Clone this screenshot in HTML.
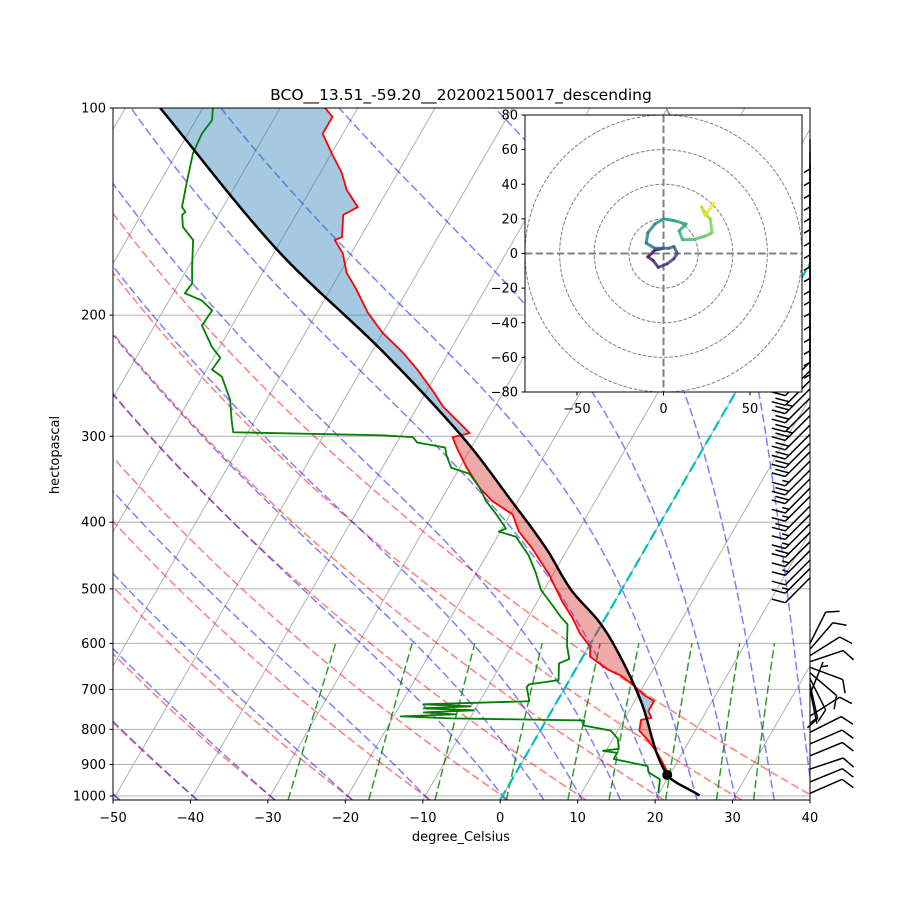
<!DOCTYPE html>
<html><head><meta charset="utf-8"><style>
html,body{margin:0;padding:0;background:#fff;}
svg{display:block;font-family:"DejaVu Sans","Liberation Sans",sans-serif;}
</style></head><body>
<svg id="chart" width="900" height="900" viewBox="0 0 900 900" xmlns="http://www.w3.org/2000/svg">
<defs>
<clipPath id="mainclip"><rect x="113" y="108" width="697" height="692"/></clipPath>
<clipPath id="hodoclip"><rect x="525" y="115" width="277" height="277"/></clipPath>
</defs>
<rect x="0" y="0" width="900" height="900" fill="#fff"/>
<g id="bg" clip-path="url(#mainclip)"></g>
<g id="fills" clip-path="url(#mainclip)"></g>
<g id="profiles" clip-path="url(#mainclip)"></g>
<rect x="113" y="108" width="697" height="692" fill="none" stroke="#000" stroke-width="1"/>
<g id="axes"></g>
<g id="barbs"></g>
<g id="hodo"></g>
<text x="461" y="100" text-anchor="middle" font-size="15.5">BCO__13.51_-59.20__202002150017_descending</text>
<text x="461" y="841" text-anchor="middle" font-size="13">degree_Celsius</text>
<text x="59" y="455" text-anchor="middle" font-size="13" transform="rotate(-90 59 455)">hectopascal</text>
</svg>
<script>
// ---------- data ----------
const pressureTicks = [100,200,300,400,500,600,700,800,900,1000];
const tempTicks = [-50,-40,-30,-20,-10,0,10,20,30,40];
const tempP = [100,103,109,116.3,124.3,131.6,139.3,143,154,155.6,162.6,173.8,182,198.5,212.3,226.8,240,258.8,271.7,296.9,300.9,311.5,333.3,356.7,372.8,389.6,412.7,436.9,476.5,521.5,551.6,580.6,607,627.1,654.5,668.3,690.8,713.7,728.2,752.2,770,775,803.7,830.9,870,917.8,933];
const tempT = [-74.2,-72.6,-72.6,-70.0,-67.2,-65.3,-62.6,-63.9,-62.4,-63.1,-61.1,-59.1,-57.0,-53.4,-50.0,-45.9,-42.8,-39.0,-36.7,-31.3,-33.2,-31.9,-29.1,-25.9,-23.3,-19.7,-17.6,-14.6,-10.5,-6.8,-4.2,-2.1,0.2,0.9,4.1,6.3,8.7,10.8,12.5,12.5,13.4,12.2,12.8,14.7,17.0,19.3,20.0];
const dewP = [100,104.1,109,116.3,128.5,139.3,141.6,143,148.9,155.6,170.5,179.8,185.9,190.4,196.9,207,222.5,230.8,240,245.8,265.7,284.3,296,299,300.9,306.3,311.5,320.1,333.3,340.1,356.7,372.8,389.6,408.5,412.7,419.9,446.6,473.1,501.7,524.8,549.4,563.1,604.2,632.4,641.4,678.6,688.2,694.4,728.2,735.7,740.7,745.7,750.7,755.8,760.9,766,771.3,776.6,789.8,803.3,825.3,853.8,859.6,865.5,883.4,904.8,923.7,946.4,990];
const dewT = [-88.7,-87.9,-88.2,-87.9,-86.5,-85.3,-84.5,-84.7,-83.7,-81.4,-79.5,-78.3,-78.5,-75.8,-73.7,-73.9,-71.0,-69.1,-69.3,-67.5,-64.7,-63.0,-61.9,-42.7,-38.3,-37.4,-33.4,-32.6,-31.1,-28.3,-25.9,-24.1,-21.8,-19.5,-20.2,-17.6,-14.6,-12.4,-10.4,-8.1,-5.8,-4.4,-2.9,-1.6,-2.6,-1.4,-4.9,-5.0,-3.6,-17.0,-10.8,-16.7,-10.1,-16.4,-12.1,-19.1,-12.4,4.9,5.2,9.1,10.6,11.5,9.6,11.6,11.6,16.5,17.1,19.1,19.9];
const parcelP = [100,160.8,226.3,300.9,375,436.9,501.7,560.5,627,728,932,998];
const parcelT = [-95.5,-69.8,-48.5,-31.9,-20.5,-12.8,-6.5,-0.3,4.8,10.8,19.7,25.4];
const lclP = [932];
const lclT = [19.7];
const dryAdiabatT0 = [-50,-40,-30,-20,-10,0,10,20,30,40];
const moistAdiabatT0 = [-50,-40,-30,-20,-10,0,5,10,15,20,25,30,35,40];
const mixingRatios = [0.0004,0.001,0.002,0.004,0.007,0.01,0.016,0.024,0.032];
const barbP = [111,116,121,126,131,136,142,148,154,160,167,173,180,188,196,204,212,221,
 234,241,249,256,264,272,280,289,298,307,316,326,336,346,357,367,379,390,402,414,427,440,454,467,482,
 600,612,625,638,650,662,675,688,700,712,
 765,808,840,874,914,954,991];
const barbU = [0,0,0,0,0,0,0,0,0,0,0,0,0,0,0,0,0,0,
 18,18,15,17,14,14,17,14,15,14,14,11,15,14,11,11,14,11,11,14,11,11,8,11,8,
 -4,-6,-8,-9,-8,-7,-4,-2,-1,-2,
 -8.5,-9,-9.3,-9.3,-9.5,-9.3,-9.2];
const barbV = [5,5,5,5,5,5,5,5,5,5,5,5,5,5,5,5,5,5,
 18,18,15,17,14,14,17,14,15,14,14,11,15,14,11,11,14,11,11,14,11,11,8,11,8,
 -8,-7,-5,-3,3,6,8,9,5,-5,
 -5.4,-4.5,-4,-3.8,-3.2,-3.8,-4];
const hodoU = [0,-5,-9,-6,-3,2,6,8,6,3,-5,-10,-9,-5,0,6,13,9,11,17,24,28,27,25,22,24,27,29];
const hodoV = [3,2,-2,-4,-8,-6,-3,0,4,3,3,6,12,17,20,19,17,13,8,8,10,12,20,22,27,22,26,29];
const hodoTicksX = [-50,0,50];
const hodoTicksY = [-80,-60,-40,-20,0,20,40,60,80];
const hodoRings = [20,40,60,80];

// ---------- scales ----------
const NS = "http://www.w3.org/2000/svg";
const Y0 = 108, PXDEC = 688, XL = 113, PXDEG = 7.744, SKEW = 0.5774, YB = 800, PBOT = 1013.4;
function yP(p){ return Y0 + PXDEC*Math.log10(p/100); }
function xT(T,p){ return XL + (T+50)*PXDEG + (YB - yP(p))*SKEW; }
function el(tag, attrs, parent){ const e=document.createElementNS(NS,tag); for(const k in attrs) e.setAttribute(k, attrs[k]); if(parent) parent.appendChild(e); return e; }
function pathFrom(ps, ts){ let d=""; for(let i=0;i<ps.length;i++){ d += (i?"L":"M")+xT(ts[i],ps[i]).toFixed(2)+","+yP(ps[i]).toFixed(2); } return d; }
function logspace(a,b,n){ const r=[]; for(let i=0;i<n;i++){ r.push(Math.exp(Math.log(a)+(Math.log(b)-Math.log(a))*i/(n-1))); } return r; }

const bg = document.getElementById('bg');
pressureTicks.forEach(p=>{
  const l = el('line',{x1:113,x2:810,y1:yP(p),y2:yP(p),stroke:'#b0b0b0','stroke-width':1},bg);
  
  
});
for(let T=-160; T<=40; T+=10){
  const l = el('line',{x1:xT(T,PBOT),y1:yP(PBOT),x2:xT(T,100),y2:yP(100),stroke:'#b0b0b0','stroke-width':1},bg);
  
  
}
const plev = logspace(PBOT,100,60);
dryAdiabatT0.forEach(t0=>{
  const ts = plev.map(p=>(t0+273.15)*Math.pow(p/1000,0.2857)-273.15);
  const l = el('path',{d:pathFrom(plev,ts),fill:'none',stroke:'rgba(255,0,0,0.5)','stroke-width':1.5,'stroke-dasharray':'8.3,3.6'},bg);
  
  
});
function dTdp(p,T){ const Tc=T-273.15; const es=6.112*Math.exp(17.67*Tc/(Tc+243.5)); const rs=0.622*es/Math.max(p-es,1); return (287.04*T+2.501e6*rs)/(1005.7+2.501e6*2.501e6*rs*0.622/(287.04*T*T))/p; }
function moist(t0){
  const up=[], down=[]; let T=t0+273.15, p=1000; const n=200;
  const pu = logspace(1000,100,n);
  up.push([1000,T]);
  for(let i=1;i<n;i++){ const dp=pu[i]-pu[i-1]; const k1=dTdp(p,T); const k2=dTdp(p+dp/2,T+k1*dp/2); const k3=dTdp(p+dp/2,T+k2*dp/2); const k4=dTdp(p+dp,T+k3*dp); T+=dp*(k1+2*k2+2*k3+k4)/6; p=pu[i]; up.push([p,T]); }
  T=t0+273.15; p=1000; const pd=logspace(1000,PBOT,5);
  for(let i=1;i<pd.length;i++){ const dp=pd[i]-pd[i-1]; const k1=dTdp(p,T); const k2=dTdp(p+dp,T+k1*dp); T+=dp*(k1+k2)/2; p=pd[i]; down.push([p,T]); }
  return down.reverse().concat(up);
}
moistAdiabatT0.forEach(t0=>{
  const pts = moist(t0);
  const l = el('path',{d:pathFrom(pts.map(a=>a[0]),pts.map(a=>a[1]-273.15)),fill:'none',stroke:'rgba(0,0,255,0.5)','stroke-width':1.5,'stroke-dasharray':'8.3,3.6'},bg);
  
  
});
const pmix = logspace(PBOT,600,10);
mixingRatios.forEach(w=>{
  const ts = pmix.map(p=>{ const e=p*w/(0.622+w); const lg=Math.log(e/6.112); return 243.5*lg/(17.67-lg); });
  const l = el('path',{d:pathFrom(pmix,ts),fill:'none',stroke:'rgba(0,128,0,0.8)','stroke-width':1.5,'stroke-dasharray':'8.3,3.6'},bg);
  
  
});
{
  const l = el('line',{x1:xT(0,PBOT),y1:yP(PBOT),x2:xT(0,100),y2:yP(100),stroke:'#00bfbf','stroke-width':2.2,'stroke-dasharray':'11,4.8'},bg);
  
  
}

// ---------- helpers ----------
function interp(ps, ts, p){
  const lp=Math.log(p);
  for(let i=0;i<ps.length-1;i++){ const a=Math.log(ps[i]), b=Math.log(ps[i+1]); if(lp>=a && lp<=b){ return ts[i]+(ts[i+1]-ts[i])*(lp-a)/(b-a); } }
  return null;
}
// smooth (Catmull-Rom in log-p) interpolation for parcel
function smoothInterp(ps, ts, p){
  const lp=Math.log(p), L=ps.map(Math.log);
  for(let i=0;i<L.length-1;i++){
    if(lp>=L[i] && lp<=L[i+1]){
      const h=L[i+1]-L[i], t=(lp-L[i])/h;
      const m0 = i>0 ? (ts[i+1]-ts[i-1])/(L[i+1]-L[i-1]) : (ts[i+1]-ts[i])/h;
      const m1 = i<L.length-2 ? (ts[i+2]-ts[i])/(L[i+2]-L[i]) : (ts[i+1]-ts[i])/h;
      const t2=t*t, t3=t2*t;
      return (2*t3-3*t2+1)*ts[i]+(t3-2*t2+t)*h*m0+(-2*t3+3*t2)*ts[i+1]+(t3-t2)*h*m1;
    }
  }
  return null;
}

// ---------- CAPE / CIN shading ----------
const fills = document.getElementById('fills');
{
  const pf = logspace(100, tempP[tempP.length-1], 500);
  let seg=[], sign=0;
  function flush(){
    if(seg.length>1){
      let d="M"; seg.forEach((s,i)=>{ d+=(i?"L":"")+xT(s[1],s[0]).toFixed(2)+","+yP(s[0]).toFixed(2); });
      for(let i=seg.length-1;i>=0;i--){ d+="L"+xT(seg[i][2],seg[i][0]).toFixed(2)+","+yP(seg[i][0]).toFixed(2); }
      d+="Z";
      const f = el('path',{d:d,fill:sign>0?'rgba(214,39,40,0.4)':'rgba(31,119,180,0.4)',stroke:'none'},fills);
      
      
    }
  }
  pf.forEach(p=>{
    const te=interp(tempP,tempT,p), tp=smoothInterp(parcelP,parcelT,p);
    if(te===null||tp===null) return;
    const s = tp>te?1:-1;
    if(s!==sign && seg.length){ const last=seg[seg.length-1]; flush(); seg=[last]; }
    sign=s; seg.push([p,te,tp]);
  });
  flush();
}

// ---------- profiles ----------
const prof = document.getElementById('profiles');
{
  const t = el('path',{d:pathFrom(tempP,tempT),fill:'none',stroke:'#ff0000','stroke-width':1.8,'stroke-linejoin':'round'},prof);
  
  
  const d = el('path',{d:pathFrom(dewP,dewT),fill:'none',stroke:'#008000','stroke-width':1.8,'stroke-linejoin':'round'},prof);
  
  
  const pp = logspace(parcelP[0], parcelP[parcelP.length-1], 300);
  const pr = el('path',{d:pathFrom(pp, pp.map(p=>smoothInterp(parcelP,parcelT,p))),fill:'none',stroke:'#000','stroke-width':2.5,'stroke-linejoin':'round'},prof);
  
  
  const c = el('circle',{cx:xT(lclT[0],lclP[0]),cy:yP(lclP[0]),r:5,fill:'#000'},prof);
  
  
}

// ---------- axes ----------
const ax = document.getElementById('axes');
pressureTicks.forEach(p=>{
  const y=yP(p);
  const tk = el('line',{x1:109.5,x2:113,y1:y,y2:y,stroke:'#000','stroke-width':1},ax);
  
  
  const tx = el('text',{x:106,y:y+4.5,'text-anchor':'end','font-size':13},ax);
  tx.textContent = String(p);
  
  
});
tempTicks.forEach(T=>{
  const x=XL+(T+50)*PXDEG;
  const tk = el('line',{x1:x,x2:x,y1:800,y2:803.5,stroke:'#000','stroke-width':1},ax);
  
  
  const tx = el('text',{x:x,y:822,'text-anchor':'middle','font-size':13},ax);
  tx.textContent = (T<0?'\u2212':'')+Math.abs(T);
  
  
});

// ---------- wind barbs ----------
const bgp = document.getElementById('barbs');
function drawBarb(p,u,v){
  const x0=810, y0=yP(p);
  let s=Math.hypot(u,v); const L=35, F=14, SP=5.2;
  const dx=-u/s, dy=v/s; const px=-dy, py=dx;
  const tx=x0+dx*L, ty=y0+dy*L;
  let d="M"+x0.toFixed(1)+","+y0.toFixed(1)+"L"+tx.toFixed(1)+","+ty.toFixed(1);
  let r=Math.round(s/5)*5; let nf=Math.floor(r/10); let nh=(r%10)>=5?1:0;
  let off=0;
  for(let i=0;i<nf;i++){ const bx=tx-dx*off, by=ty-dy*off; d+="M"+bx.toFixed(1)+","+by.toFixed(1)+"l"+((px*0.86+dx*0.5)*F).toFixed(1)+","+((py*0.86+dy*0.5)*F).toFixed(1); off+=SP; }
  if(nh){ if(nf===0) off=SP; const bx=tx-dx*off, by=ty-dy*off; d+="M"+bx.toFixed(1)+","+by.toFixed(1)+"l"+((px*0.86+dx*0.5)*F/2).toFixed(1)+","+((py*0.86+dy*0.5)*F/2).toFixed(1); }
  const b = el('path',{d:d,fill:'none',stroke:'#000','stroke-width':1.5},bgp);
  
  
}
for(let i=0;i<barbP.length;i++) drawBarb(barbP[i],barbU[i],barbV[i]);

// ---------- hodograph ----------
const hg = document.getElementById('hodo');
const HX=663.5, HY=253.5, HS=277/160;
function hx(u){ return HX+u*HS; } function hy(v){ return HY-v*HS; }
{
  const r = el('rect',{x:525,y:115,width:277,height:277,fill:'#fff'},hg);
  
  
  const inner = el('g',{'clip-path':'url(#hodoclip)'},hg);
  hodoRings.forEach(rv=>{
    const c = el('circle',{cx:HX,cy:HY,r:rv*HS,fill:'none',stroke:'#808080','stroke-width':1,'stroke-dasharray':'3.7,1.6'},inner);
    
    
  });
  const a1 = el('line',{x1:525,x2:802,y1:HY,y2:HY,stroke:'#808080','stroke-width':2,'stroke-dasharray':'7.4,3.2'},inner);
  
  
  const a2 = el('line',{x1:HX,x2:HX,y1:115,y2:392,stroke:'#808080','stroke-width':2,'stroke-dasharray':'7.4,3.2'},inner);
  
  
  function viridis(t){
    const cs=[[68,1,84],[72,40,120],[62,74,137],[49,104,142],[38,130,142],[31,158,137],[53,183,121],[109,205,89],[180,222,44],[253,231,37]];
    const f=t*(cs.length-1), i=Math.min(Math.floor(f),cs.length-2), w=f-i;
    return 'rgb('+cs[i].map((c,k)=>Math.round(c+(cs[i+1][k]-c)*w)).join(',')+')';
  }
  for(let i=0;i<hodoU.length-1;i++){
    const s = el('line',{x1:hx(hodoU[i]),y1:hy(hodoV[i]),x2:hx(hodoU[i+1]),y2:hy(hodoV[i+1]),stroke:viridis(i/(hodoU.length-2)),'stroke-width':3,'stroke-linecap':'round','stroke-opacity':0.85},inner);
    
    
  }
  const fr = el('rect',{x:525,y:115,width:277,height:277,fill:'none',stroke:'#000','stroke-width':1},hg);
  
  
  hodoTicksX.forEach(u=>{
    const t = el('line',{x1:hx(u),x2:hx(u),y1:392,y2:395.5,stroke:'#000','stroke-width':1},hg);
    
    
    const tx = el('text',{x:hx(u),y:413,'text-anchor':'middle','font-size':13},hg);
    tx.textContent=(u<0?'\u2212':'')+Math.abs(u);
    
    
  });
  hodoTicksY.forEach(v=>{
    const t = el('line',{x1:521.5,x2:525,y1:hy(v),y2:hy(v),stroke:'#000','stroke-width':1},hg);
    
    
    const tx = el('text',{x:518,y:hy(v)+4.5,'text-anchor':'end','font-size':13},hg);
    tx.textContent=(v<0?'\u2212':'')+Math.abs(v);
    
    
  });
}
</script>
</body></html>
